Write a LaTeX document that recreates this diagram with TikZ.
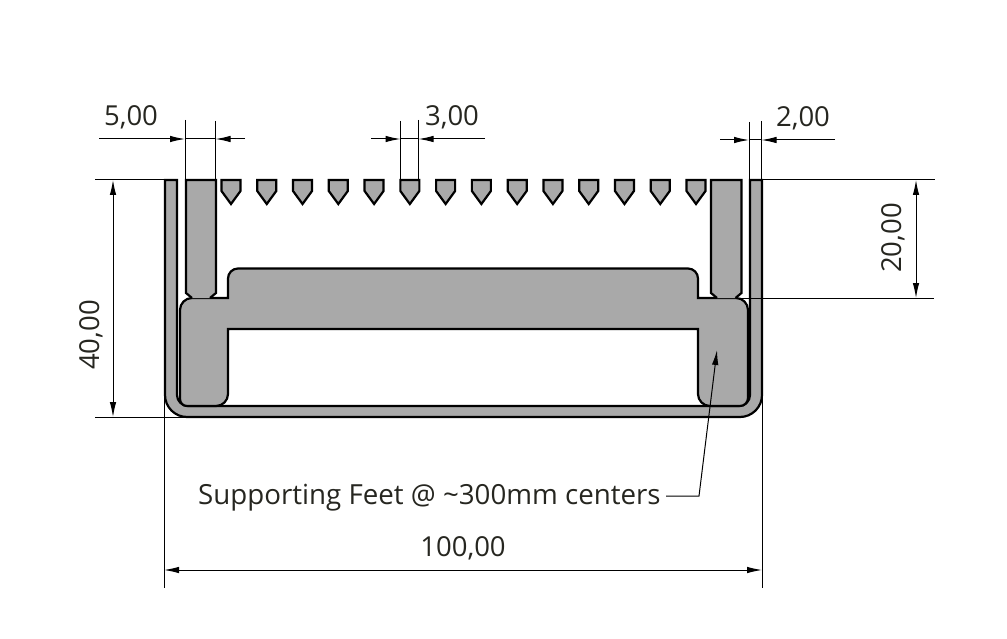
\documentclass[tikz,border=0pt]{standalone}
\usepackage{fontspec}
\setmainfont{Open Sans}
\usetikzlibrary{arrows.meta}
\definecolor{steelgrey}{HTML}{A9A9A9}
\definecolor{dimtext}{HTML}{262620}
\tikzset{
  profile/.style={draw=black,fill=steelgrey,line width=2.2pt,line join=miter},
  dimline/.style={draw=black,line width=1pt},
  dimarrow/.style={draw=black,line width=1pt,-{Latex[length=15pt,width=6.5pt]}},
  dimlabel/.style={text=dimtext,font=\fontsize{27.5}{28}\selectfont,inner sep=0pt},
  notelabel/.style={text=dimtext,font=\fontsize{27.7}{28}\selectfont,inner sep=0pt}
}
\newcommand{\tooth}[1]{\draw[profile] (#1-9.5,180) -- (#1+9.5,180) -- (#1+9.5,191) -- (#1,204) -- (#1-9.5,191) -- cycle;}
\begin{document}
\begin{tikzpicture}[x=1pt,y=-1pt]
\useasboundingbox (0,0) rectangle (1007,639);
% channel
\draw[profile] (165,180) -- (165,395) .. controls (165,407.1) and (174.9,417) .. (187,417) -- (740,417) .. controls (752.1,417) and (762,407.1) .. (762,395) -- (762,180) -- (750,180) -- (750,395) .. controls (750,401) and (745,406) .. (739,406) -- (188,406) .. controls (182,406) and (177,401) .. (177,395) -- (177,180) -- cycle;
% foot body
\draw[profile] (228,298) [rounded corners=10pt] -- (228,268.5) -- (698,268.5) -- (698,298) [sharp corners] -- (698,298) -- (736,298) [rounded corners=12pt] -- (748,298) [rounded corners=8pt] -- (748,406) [rounded corners=12pt] -- (698,406) [sharp corners] -- (698,329) -- (228,329) [rounded corners=12pt] -- (228,406) [rounded corners=7pt] -- (180,406) [rounded corners=12pt] -- (180,298) [sharp corners] -- cycle;
% flanges
\draw[profile] (192,298) -- (186,293) -- (186,180) -- (216,180) -- (216,293) -- (210,298);
\draw[profile] (717,298) -- (711,293) -- (711,180) -- (741.5,180) -- (741.5,293) -- (735.5,298);
% teeth
\foreach \n in {0,...,13}{\pgfmathsetmacro{\tx}{231+35.77*\n}\tooth{\tx}}
% named points
\coordinate (fiveA) at (185,139);
\coordinate (fiveB) at (215.5,139);
\coordinate (threeA) at (400.5,139);
\coordinate (threeB) at (418.5,139);
\coordinate (twoA) at (749,140);
\coordinate (twoB) at (761.5,140);
\coordinate (fortyTop) at (113,180);
\coordinate (fortyBot) at (113,417);
\coordinate (twentyTop) at (916,180);
\coordinate (twentyBot) at (916,298);
\coordinate (hundredA) at (164,570);
\coordinate (hundredB) at (762,570);
% extension lines
\draw[dimline] (185,120) -- (185,180);
\draw[dimline] (215.5,121) -- (215.5,180);
\draw[dimline] (400.5,121) -- (400.5,180);
\draw[dimline] (418.5,120) -- (418.5,180);
\draw[dimline] (749,122) -- (749,180);
\draw[dimline] (761.5,121) -- (761.5,180);
\draw[dimline] (95,180) -- (165,180);
\draw[dimline] (762,180) -- (935,180);
\draw[dimline] (740,298) -- (934,298);
\draw[dimline] (95,417.5) -- (187,417.5);
\draw[dimline] (164.5,398) -- (164.5,588);
\draw[dimline] (762,398) -- (762,588);
% dimension lines
\draw[dimarrow] (99,139) -- (fiveA);
\draw[dimarrow] (245,139) -- (fiveB);
\draw[dimline] (fiveA) -- (fiveB);
\draw[dimarrow] (371,139) -- (threeA);
\draw[dimarrow] (485,139) -- (threeB);
\draw[dimline] (threeA) -- (threeB);
\draw[dimarrow] (720,140) -- (twoA);
\draw[dimarrow] (835,140) -- (twoB);
\draw[dimline] (twoA) -- (twoB);
\draw[dimarrow] (113,300) -- (fortyTop);
\draw[dimarrow] (113,300) -- (fortyBot);
\draw[dimarrow] (916,240) -- (twentyTop);
\draw[dimarrow] (916,240) -- (twentyBot);
\draw[dimarrow] (463,570) -- (hundredA);
\draw[dimarrow] (463,570) -- (hundredB);
% labels
\node[dimlabel] (lfive) at (131,117) {5,00};
\node[dimlabel] (lthree) at (452,117) {3,00};
\node[dimlabel] (ltwo) at (803,118) {2,00};
\node[dimlabel,rotate=90] (lforty) at (91,335) {40,00};
\node[dimlabel,rotate=90] (ltwenty) at (893,238) {20,00};
\node[dimlabel] (lhundred) at (463,548) {100,00};
\node[notelabel,anchor=west] (note) at (198,498) {Supporting Feet @ \textasciitilde 300mm centers};
% leader
\coordinate (leadStart) at (666,496);
\coordinate (leadBend) at (699,496);
\coordinate (leadTip) at (717,350);
\draw[dimarrow] (leadStart) -- (leadBend) -- (leadTip);
\end{tikzpicture}
\end{document}
